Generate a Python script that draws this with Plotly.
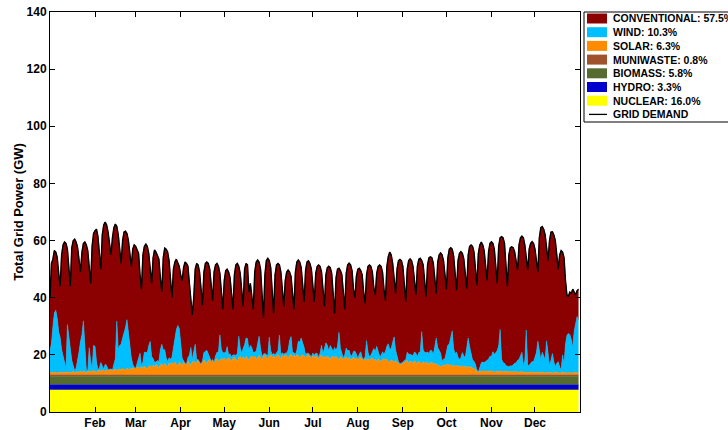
import pandas as pd
import plotly.graph_objects as go

# ---------------- data (GW, daily, one row per week Sun..Sat; year starting Sun 1 Jan) -------------
DEMAND_WEEKS = [
    [40.0, 52.0, 53.5, 56.5, 56.0, 54.0, 48.5],
    [44.0, 55.0, 58.5, 59.5, 59.0, 57.0, 50.0],
    [44.0, 57.5, 60.0, 60.5, 59.5, 57.5, 52.0],
    [49.0, 56.0, 59.0, 59.5, 58.5, 56.5, 50.0],
    [45.0, 58.0, 62.5, 63.5, 64.0, 61.5, 54.0],
    [50.0, 62.0, 65.5, 66.5, 65.5, 63.0, 58.0],
    [55.0, 61.0, 64.5, 65.8, 65.0, 62.0, 56.0],
    [52.0, 60.0, 63.0, 63.3, 62.5, 60.0, 55.0],
    [51.0, 57.0, 58.5, 58.0, 57.0, 55.5, 48.0],
    [43.0, 55.0, 58.0, 58.8, 58.0, 55.5, 49.0],
    [45.0, 54.0, 56.7, 56.0, 55.0, 53.5, 47.0],
    [42.0, 54.0, 57.4, 57.0, 56.0, 53.0, 46.0],
    [40.0, 50.0, 52.5, 53.5, 52.5, 51.0, 48.0],
    [46.0, 50.5, 52.5, 52.0, 51.0, 45.0, 38.0],
    [34.0, 40.0, 50.0, 52.0, 51.5, 49.0, 42.0],
    [37.5, 49.0, 52.0, 52.5, 52.0, 50.0, 44.0],
    [39.0, 49.0, 51.5, 52.0, 51.0, 48.5, 41.0],
    [36.0, 46.0, 49.5, 50.0, 49.0, 47.0, 40.0],
    [36.0, 48.0, 51.5, 52.0, 51.0, 48.5, 41.0],
    [37.0, 50.0, 52.0, 51.5, 42.0, 45.0, 40.0],
    [36.0, 49.0, 52.5, 53.2, 52.5, 50.0, 41.0],
    [33.0, 48.0, 53.0, 53.8, 53.0, 50.5, 41.0],
    [34.6, 48.0, 51.5, 52.0, 51.5, 49.0, 42.0],
    [37.0, 46.0, 49.0, 49.7, 49.0, 47.5, 41.0],
    [36.0, 49.0, 52.5, 53.2, 52.5, 50.5, 43.0],
    [38.6, 49.5, 52.5, 52.9, 52.0, 50.0, 43.0],
    [38.6, 48.5, 51.0, 51.5, 51.0, 49.0, 42.0],
    [37.0, 48.0, 50.5, 51.0, 50.5, 48.5, 41.0],
    [34.5, 47.0, 50.0, 50.3, 49.5, 48.0, 40.0],
    [36.0, 48.5, 51.5, 52.1, 51.5, 49.5, 43.0],
    [40.0, 47.5, 50.0, 50.3, 49.5, 48.0, 42.0],
    [38.0, 48.0, 51.0, 51.5, 51.0, 49.0, 43.5],
    [41.0, 48.5, 51.0, 51.5, 51.0, 49.0, 43.0],
    [39.0, 51.0, 54.5, 56.0, 55.0, 52.0, 45.0],
    [41.5, 50.0, 53.0, 53.4, 53.0, 51.0, 43.0],
    [38.6, 50.0, 53.0, 53.6, 53.0, 51.0, 45.0],
    [41.0, 51.0, 53.5, 53.8, 53.0, 51.5, 45.0],
    [40.4, 51.5, 54.0, 54.3, 54.0, 52.0, 45.5],
    [41.5, 52.5, 55.0, 55.7, 55.0, 53.0, 46.5],
    [43.0, 54.0, 57.0, 57.5, 57.0, 54.5, 47.0],
    [42.6, 53.0, 55.5, 56.1, 55.5, 53.5, 47.5],
    [43.2, 55.0, 58.0, 58.5, 58.0, 56.0, 48.5],
    [44.4, 55.5, 58.5, 59.5, 58.5, 56.5, 50.0],
    [46.0, 56.0, 59.0, 59.6, 59.0, 57.0, 50.0],
    [45.0, 58.0, 61.0, 61.4, 61.0, 59.0, 50.0],
    [44.0, 55.0, 57.5, 57.8, 57.5, 56.0, 52.0],
    [49.7, 58.5, 61.0, 61.6, 61.0, 58.5, 54.0],
    [49.7, 57.0, 59.0, 59.6, 59.0, 57.0, 53.0],
    [49.0, 61.0, 64.5, 64.9, 64.0, 62.0, 57.0],
    [53.0, 60.0, 63.0, 63.1, 62.0, 60.0, 55.0],
    [50.0, 55.0, 56.5, 56.0, 54.0, 46.0, 41.0],
    [40.5, 42.0, 41.5, 43.0, 42.0, 41.0, 42.5],
    [43.0],
]

SOLAR_WEEKS = [
    [0.8, 0.9, 0.7, 1.0, 0.8, 0.6, 0.9],
    [1.0, 0.8, 0.7, 0.9, 1.1, 0.8, 0.9],
    [0.7, 1.0, 1.2, 0.9, 0.8, 1.1, 1.0],
    [1.2, 0.9, 1.3, 1.1, 0.8, 1.2, 1.4],
    [1.1, 1.3, 1.5, 1.2, 1.0, 1.4, 1.6],
    [1.3, 1.7, 1.5, 1.2, 1.8, 1.6, 1.4],
    [1.9, 1.5, 1.7, 2.0, 1.6, 1.8, 2.1],
    [1.7, 2.2, 1.9, 1.6, 2.3, 2.0, 1.8],
    [2.4, 2.1, 2.6, 2.2, 2.8, 2.5, 2.3],
    [2.9, 2.3, 3.1, 2.5, 2.0, 3.0, 3.3],
    [2.6, 3.4, 2.8, 3.6, 3.2, 2.4, 3.5],
    [3.8, 3.0, 4.0, 3.3, 2.7, 4.2, 3.7],
    [4.3, 3.5, 4.5, 3.8, 2.9, 4.4, 4.1],
    [3.3, 4.6, 4.0, 3.6, 4.8, 4.1, 3.2],
    [4.5, 4.9, 3.8, 4.7, 5.1, 4.2, 3.5],
    [4.6, 5.2, 4.6, 3.8, 5.0, 5.4, 4.5],
    [5.1, 4.2, 5.3, 5.6, 4.6, 5.2, 5.7],
    [5.4, 5.9, 4.8, 5.7, 6.0, 5.2, 4.7],
    [5.8, 6.2, 5.3, 4.8, 6.1, 6.4, 5.7],
    [6.3, 5.4, 6.5, 5.8, 5.1, 6.2, 6.6],
    [6.0, 6.6, 5.5, 6.4, 6.8, 6.0, 5.3],
    [6.5, 6.9, 6.1, 5.5, 6.7, 7.0, 6.2],
    [6.8, 5.8, 6.6, 7.1, 6.3, 5.6, 6.9],
    [6.2, 7.0, 6.7, 5.7, 6.9, 7.2, 6.4],
    [6.9, 6.2, 7.1, 6.8, 5.8, 6.7, 7.0],
    [6.6, 5.8, 6.8, 7.0, 6.2, 5.6, 6.7],
    [6.2, 6.8, 6.0, 5.5, 6.6, 6.9, 5.8],
    [6.5, 5.7, 6.7, 6.2, 5.4, 6.3, 6.6],
    [6.0, 6.6, 5.6, 5.4, 6.4, 5.8, 5.3],
    [6.0, 6.3, 5.4, 6.1, 5.2, 5.9, 6.2],
    [5.5, 6.0, 5.1, 5.9, 6.1, 5.3, 4.9],
    [5.8, 5.0, 5.7, 4.8, 5.6, 5.9, 5.0],
    [5.5, 4.7, 5.6, 5.1, 4.5, 5.4, 5.7],
    [5.2, 5.5, 4.7, 4.4, 5.3, 4.9, 4.4],
    [5.0, 4.6, 4.2, 3.5, 3.7, 4.0, 4.6],
    [4.7, 5.0, 4.1, 4.8, 4.6, 4.0, 4.9],
    [4.5, 3.9, 4.7, 4.4, 3.7, 4.6, 4.3],
    [4.1, 4.4, 3.6, 4.2, 4.5, 3.5, 4.0],
    [3.7, 3.4, 3.2, 2.9, 3.1, 3.5, 3.3],
    [3.5, 3.8, 3.0, 3.6, 3.0, 3.5, 2.9],
    [3.4, 2.8, 3.3, 2.7, 3.2, 2.6, 3.1],
    [2.7, 3.0, 2.4, 2.9, 2.3, 2.2, 2.0],
    [1.2, 1.0, 1.3, 1.1, 1.4, 1.2, 1.3],
    [1.4, 1.2, 1.5, 1.1, 1.3, 1.0, 1.2],
    [1.3, 1.1, 1.4, 1.2, 1.0, 1.3, 1.1],
    [1.2, 1.0, 1.3, 0.9, 1.1, 1.2, 1.0],
    [1.1, 0.9, 1.0, 1.2, 0.8, 1.0, 0.9],
    [1.0, 0.8, 0.9, 1.1, 0.7, 0.9, 1.0],
    [0.8, 0.9, 0.7, 1.0, 0.8, 0.6, 0.9],
    [0.7, 0.8, 0.9, 0.6, 0.8, 0.7, 0.9],
    [0.8, 0.6, 0.7, 0.9, 0.7, 0.8, 0.6],
    [0.7, 0.8, 0.6, 0.7, 0.9, 0.7, 0.8],
    [0.7],
]

WIND_WEEKS = [
    [7.8, 10.1, 16.1, 20.7, 21.8, 19.1, 14.1],
    [12.1, 8.1, 6.1, 4.1, 1.1, 16.8, 12.1],
    [10.1, 4.1, 2.1, 0.5, 1.6, 3.6, 7.1],
    [10.5, 13.1, 17.6, 8.1, 1.1, 0.3, 8.1],
    [3.8, 0.8, 8.8, 8.8, 3.8, 0.4, 0.8],
    [3.0, 1.5, 0.5, 2.5, 1.5, 0.2, 0.5],
    [0.2, 0.2, 1.7, 3.7, 17.2, 7.2, 8.2],
    [9.0, 10.7, 12.8, 15.0, 17.0, 13.0, 7.0],
    [3.6, 1.6, 0.1, 0.1, 1.6, 3.1, 5.3],
    [0.2, 2.2, 4.9, 5.2, 5.7, 7.2, 8.4],
    [3.8, 2.3, 1.6, 0.9, 1.8, 2.3, 5.3],
    [6.9, 5.8, 4.8, 2.8, 1.8, 1.8, 1.8],
    [1.9, 5.9, 8.9, 12.0, 14.4, 11.9, 7.1],
    [2.6, 0.3, 0.1, 0.3, 1.3, 2.8, 6.4],
    [1.0, 3.5, 6.9, 0.5, 0.3, 0.3, 0.3],
    [0.3, 2.6, 3.6, 4.8, 2.4, 0.6, 0.3],
    [0.3, 0.3, 1.3, 2.3, 3.3, 8.8, 3.3],
    [2.3, 1.8, 3.0, 4.2, 1.0, 2.2, 1.5],
    [1.2, 0.8, 1.6, 2.6, 7.4, 3.1, 1.8],
    [2.9, 5.1, 6.4, 6.9, 3.6, 4.2, 2.9],
    [1.7, 1.4, 2.7, 4.5, 6.7, 3.4, 1.0],
    [0.8, 0.6, 1.0, 1.2, 6.5, 1.5, 0.9],
    [0.7, 1.2, 1.0, 1.3, 7.6, 1.4, 0.8],
    [1.0, 0.6, 0.9, 3.0, 5.0, 6.2, 1.5],
    [0.8, 1.0, 1.5, 5.0, 5.7, 6.2, 4.2],
    [3.0, 1.2, 0.8, 0.6, 0.5, 0.7, 0.9],
    [0.7, 0.8, 1.5, 0.6, 1.0, 3.5, 1.8],
    [2.7, 5.5, 3.7, 2.2, 4.9, 2.7, 1.7],
    [3.6, 1.9, 4.4, 9.5, 2.9, 1.2, 0.6],
    [1.0, 3.1, 3.0, 2.5, 1.5, 0.8, 2.0],
    [2.8, 1.3, 0.5, 1.3, 2.0, 0.8, 0.5],
    [0.5, 7.0, 2.2, 1.5, 1.3, 2.5, 4.2],
    [2.7, 5.3, 2.7, 1.5, 2.2, 2.7, 1.5],
    [3.0, 4.5, 6.2, 4.5, 4.0, 6.5, 8.9],
    [3.7, 2.0, 0.5, 0.4, 0.4, 0.4, 0.5],
    [0.6, 2.9, 3.1, 2.4, 2.2, 2.7, 3.1],
    [3.1, 2.4, 3.1, 3.6, 11.4, 4.1, 3.6],
    [3.6, 3.6, 3.9, 4.4, 3.9, 3.6, 5.9],
    [9.2, 6.2, 5.2, 4.7, 1.7, 2.0, 2.4],
    [4.6, 6.6, 7.8, 9.6, 12.4, 5.6, 4.6],
    [4.6, 3.4, 2.1, 3.4, 4.6, 3.9, 3.1],
    [6.4, 9.9, 7.4, 4.9, 2.9, 2.6, 1.7],
    [0.5, 0.2, 1.3, 3.1, 3.1, 3.1, 3.4],
    [3.8, 4.3, 5.0, 5.3, 6.8, 6.2, 6.5],
    [7.2, 9.0, 14.5, 4.3, 3.3, 2.8, 2.1],
    [1.9, 1.8, 1.9, 2.2, 2.4, 2.9, 3.2],
    [4.0, 4.5, 5.5, 6.7, 2.5, 4.0, 14.8],
    [2.1, 2.6, 3.4, 3.6, 3.9, 5.1, 6.8],
    [11.0, 7.2, 4.7, 6.9, 5.7, 4.7, 11.0],
    [6.9, 2.5, 4.2, 6.9, 3.7, 2.2, 3.2],
    [3.8, 2.2, 1.0, 6.1, 2.8, 9.9, 13.2],
    [13.8, 13.3, 11.8, 9.0, 14.4, 17.8, 19.6],
    [18.3],
]

NUCLEAR_GW = 7.7
HYDRO_GW = 1.8
BIOMASS_GW = 3.0
MUNIWASTE_GW = 0.5

LEGEND_LABELS = ["CONVENTIONAL: 57.5%", "WIND: 10.3%", "SOLAR: 6.3%", "MUNIWASTE: 0.8%",
                 "BIOMASS: 5.8%", "HYDRO: 3.3%", "NUCLEAR: 16.0%", "GRID DEMAND"]
MONTH_LABELS = ["Feb", "Mar", "Apr", "May", "Jun", "Jul", "Aug", "Sep", "Oct", "Nov", "Dec"]
MONTH_TICKS = ["2017-02-01", "2017-03-01", "2017-04-01", "2017-05-01", "2017-06-01", "2017-07-01",
               "2017-08-01", "2017-09-01", "2017-10-01", "2017-11-01", "2017-12-01"]
Y_TICKS = [0, 20, 40, 60, 80, 100, 120, 140]

# ---------------- derived series -------------
demand = [v for row in DEMAND_WEEKS for v in row]
solar = [v for row in SOLAR_WEEKS for v in row]
wind = [v for row in WIND_WEEKS for v in row]
n = len(demand)
dates = pd.date_range("2017-01-01", periods=n, freq="D")
nuclear = [NUCLEAR_GW] * n
hydro = [HYDRO_GW] * n
biomass = [BIOMASS_GW] * n
muni = [MUNIWASTE_GW] * n
conventional = [max(d - (NUCLEAR_GW + HYDRO_GW + BIOMASS_GW + MUNIWASTE_GW + s + w), 0)
                for d, s, w in zip(demand, solar, wind)]

COLORS = {
    "CONVENTIONAL": "#8B0000", "WIND": "#00BFFF", "SOLAR": "#FF8C00", "MUNIWASTE": "#A0522D",
    "BIOMASS": "#556B2F", "HYDRO": "#0000CD", "NUCLEAR": "#FFFF00",
}

FONT = "Liberation Sans, Arial, Helvetica, sans-serif"

fig = go.Figure()
stack = [("NUCLEAR", nuclear), ("HYDRO", hydro), ("BIOMASS", biomass), ("MUNIWASTE", muni),
         ("SOLAR", solar), ("WIND", wind), ("CONVENTIONAL", conventional)]
for name, vals in stack:
    fig.add_trace(go.Scatter(
        x=dates, y=vals, mode="lines", stackgroup="one", name=name,
        line=dict(width=0.6, color=COLORS[name]), fillcolor=COLORS[name],
        showlegend=False, hoverinfo="skip"))
fig.add_trace(go.Scatter(x=dates, y=demand, mode="lines", name="GRID DEMAND",
                         line=dict(color="black", width=1.4), showlegend=False))

# ---------------- manual legend (pixel helpers) -------------
L, R, T, B = 50, 580, 12, 412
def px(xp):
    return (xp - L) / (R - L)
def py(yp):
    return (B - yp) / (B - T)

shapes = [dict(type="rect", xref="paper", yref="paper", x0=px(584), x1=px(800), y0=py(122), y1=py(12),
               line=dict(color="black", width=1), fillcolor="white", layer="above")]
annotations = []
legend_keys = ["CONVENTIONAL", "WIND", "SOLAR", "MUNIWASTE", "BIOMASS", "HYDRO", "NUCLEAR", None]
for i, (key, label) in enumerate(zip(legend_keys, LEGEND_LABELS)):
    yc = 18.5 + i * 13.7
    if key is not None:
        shapes.append(dict(type="rect", xref="paper", yref="paper", x0=px(587), x1=px(607),
                           y0=py(yc + 5), y1=py(yc - 5), line=dict(width=0),
                           fillcolor=COLORS[key], layer="above"))
    else:
        shapes.append(dict(type="line", xref="paper", yref="paper", x0=px(589), x1=px(607),
                           y0=py(yc), y1=py(yc), line=dict(color="black", width=1.3), layer="above"))
    annotations.append(dict(xref="paper", yref="paper", x=px(610.5), y=py(yc), text=label,
                            showarrow=False, xanchor="left", yanchor="middle",
                            font=dict(family=FONT, size=10.5, color="black", weight="bold")))

axis_common = dict(showline=True, linecolor="black", linewidth=1, mirror="ticks", ticks="inside",
                   ticklen=5, tickcolor="black", tickwidth=1, showgrid=False, zeroline=False,
                   tickfont=dict(family=FONT, size=12, color="black", weight="bold"))

fig.update_layout(
    width=728, height=430,
    margin=dict(l=L, r=728 - R, t=T, b=430 - B, pad=0),
    paper_bgcolor="white", plot_bgcolor="white",
    showlegend=False,
    shapes=shapes, annotations=annotations,
    xaxis=dict(type="date", range=["2017-01-01", "2018-01-01"], tickmode="array",
               tickvals=MONTH_TICKS, ticktext=MONTH_LABELS, automargin=False, **axis_common),
    yaxis=dict(range=[0, 140], tickmode="array", tickvals=Y_TICKS, automargin=False,
               title=dict(text="Total Grid Power (GW)", standoff=0,
                          font=dict(family=FONT, size=13, color="black", weight="bold")),
               **axis_common),
)

fig.write_html("out.html", config={"displayModeBar": False, "staticPlot": True},
               post_script="document.body.style.margin='0';document.body.style.overflow='hidden';")
